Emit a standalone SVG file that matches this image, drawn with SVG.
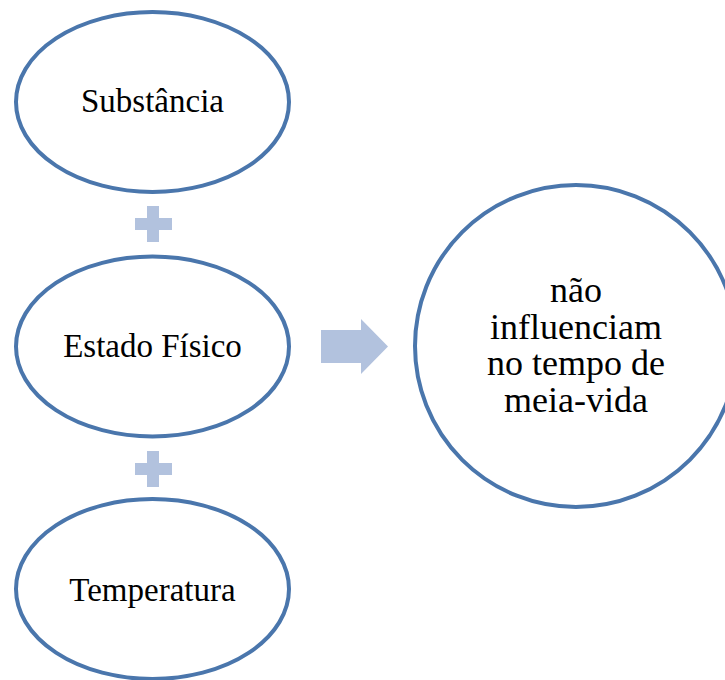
<svg xmlns="http://www.w3.org/2000/svg" width="725" height="680" viewBox="0 0 725 680">
<style>
.node{fill:#FFFFFF;stroke:#4A76AC;stroke-width:4}
.lbl{font-family:"Liberation Serif","DejaVu Serif",serif;font-size:33px;fill:#000;text-anchor:middle}
.big{font-size:36px}
.sym{fill:#B2C2DE}
</style>
<rect width="725" height="680" fill="#FFFFFF"/>
<g id="connectors">
<path class="sym" d="M147,206 H159 V218 H172 V230 H159 V242 H147 V230 H135 V218 H147 Z"/>
<path class="sym" d="M147,451 H159 V463 H172 V475 H159 V487 H147 V475 H135 V463 H147 Z"/>
<path class="sym" d="M321,330 H361 V319 L388,346.5 L361,374 V363 H321 Z"/>
</g>
<g id="node-substancia">
<ellipse class="node" cx="152.5" cy="102" rx="136.5" ry="90"/>
<text class="lbl" x="152.5" y="112">Substância</text>
</g>
<g id="node-estado">
<ellipse class="node" cx="152.5" cy="346.5" rx="136.5" ry="90"/>
<text class="lbl" x="152.5" y="357">Estado Físico</text>
</g>
<g id="node-temperatura">
<ellipse class="node" cx="152.5" cy="589" rx="136.5" ry="90"/>
<text class="lbl" x="152.5" y="601">Temperatura</text>
</g>
<g id="node-resultado">
<circle class="node" cx="576" cy="346" r="161"/>
<text class="lbl big" x="576" y="302">não</text>
<text class="lbl big" x="576" y="338.5">influenciam</text>
<text class="lbl big" x="576" y="375">no tempo de</text>
<text class="lbl big" x="576" y="411.5">meia-vida</text>
</g>
</svg>
